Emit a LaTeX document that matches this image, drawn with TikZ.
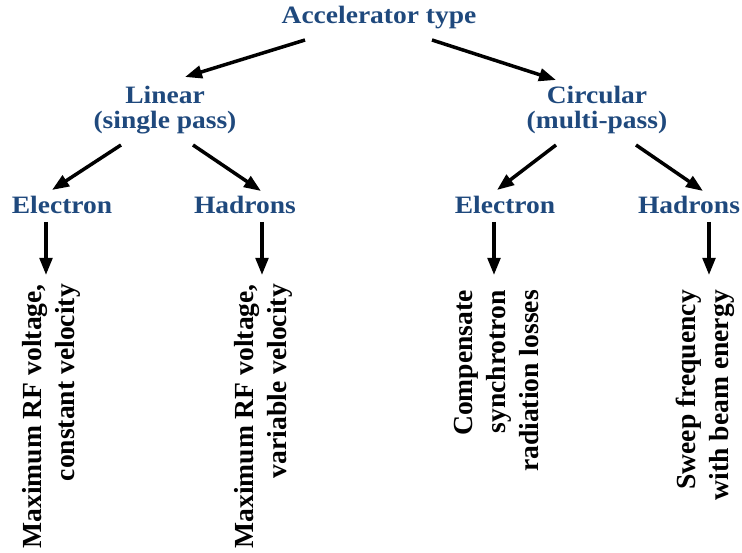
\documentclass[tikz,border=0pt]{standalone}
\usepackage{fontspec}
\setmainfont{Liberation Serif}
\newfontfamily\bluefont[FakeStretch=1.1]{Liberation Serif}
\usetikzlibrary{arrows.meta}
\definecolor{hdblue}{RGB}{31,73,125}
\tikzset{
  lbl/.style={inner sep=0pt, text=hdblue, align=center,
    font=\bluefont\fontsize{25}{25}\selectfont\bfseries},
  rot/.style={inner sep=0pt, rotate=90, anchor=east, align=right,
    font=\fontsize{27.6}{33}\selectfont\bfseries},
  arr/.style={line width=3.5pt, -{Triangle[length=17pt,width=12.5pt]}}
}
\begin{document}
\begin{tikzpicture}[x=1pt,y=1pt]
\useasboundingbox (0,0) rectangle (742,552);
% levels
\node[lbl] (top) at (379,534) {Accelerator type};
\node[lbl] (lin) at (165,442) {Linear\\(single pass)};
\node[lbl] (circ) at (597,442) {Circular\\(multi-pass)};
\node[lbl] (e1) at (62,347) {Electron};
\node[lbl] (h1) at (245,347) {Hadrons};
\node[lbl] (e2) at (505,347) {Electron};
\node[lbl] (h2) at (689,347) {Hadrons};
% rotated descriptions
\node[rot] (r1) at (51.5,268) {Maximum RF voltage,\\constant velocity};
\node[rot] (r2) at (263,268) {Maximum RF voltage,\\variable velocity};
\node[rot] (r3) at (496,262) {Compensate\\synchrotron\\radiation losses};
\node[rot] (r4) at (705,262) {Sweep frequency\\with beam energy};
% connectors
\draw[arr] ([shift={(-74,-22)}]top.center) -- ([shift={(20,33)}]lin.center);
\draw[arr] ([shift={(53,-22)}]top.center) -- ([shift={(-41,30)}]circ.center);
\draw[arr] ([shift={(-44,-35)}]lin.center) -- ([shift={(-10,15)}]e1.center);
\draw[arr] ([shift={(28,-35)}]lin.center) -- ([shift={(16,14)}]h1.center);
\draw[arr] ([shift={(-41,-35)}]circ.center) -- ([shift={(-8,15)}]e2.center);
\draw[arr] ([shift={(39,-35)}]circ.center) -- ([shift={(14,14)}]h2.center);
\draw[arr] ([shift={(-16,-17)}]e1.center) -- ([shift={(-5.5,9)}]r1.east);
\draw[arr] ([shift={(17,-17)}]h1.center) -- ([shift={(-1,9)}]r2.east);
\draw[arr] ([shift={(-11,-17)}]e2.center) -- ([shift={(-2,15)}]r3.east);
\draw[arr] ([shift={(20,-17)}]h2.center) -- ([shift={(4,15)}]r4.east);
\end{tikzpicture}
\end{document}
